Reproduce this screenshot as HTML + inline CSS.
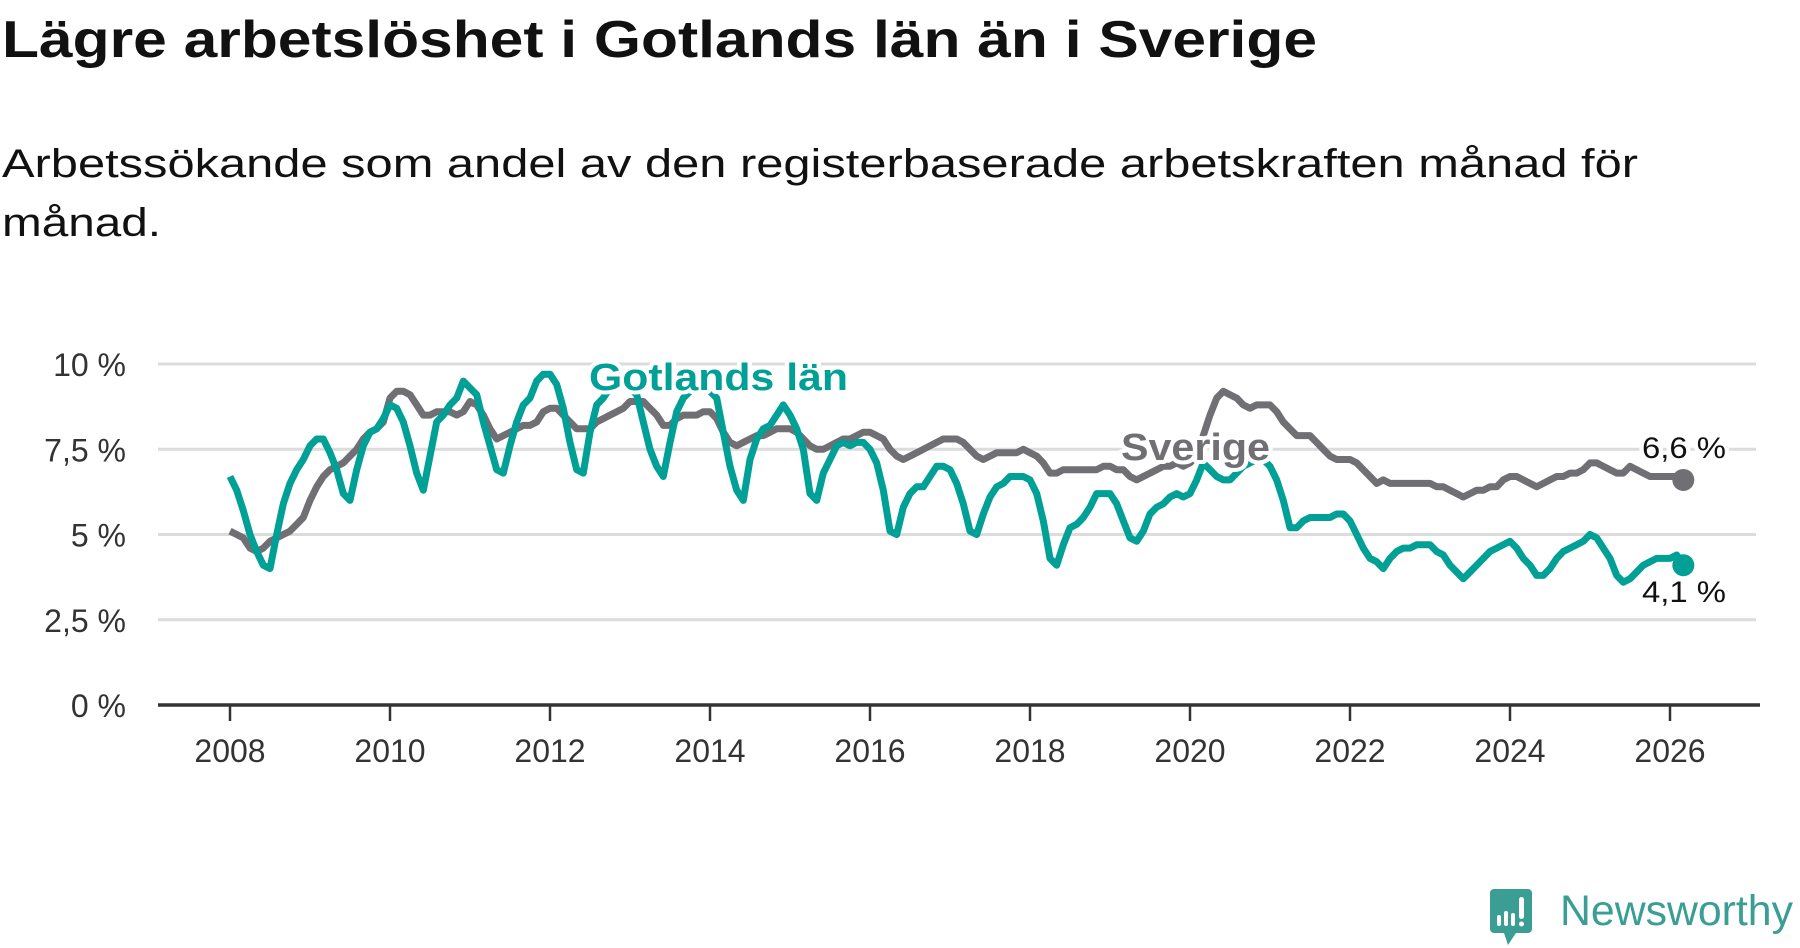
<!DOCTYPE html>
<html><head><meta charset="utf-8"><style>
html,body{margin:0;padding:0;background:#fff;}
svg{display:block;font-family:"Liberation Sans",sans-serif;}
</style></head><body>
<svg id="chart" width="1800" height="948" viewBox="0 0 1800 948" xmlns="http://www.w3.org/2000/svg">
<text x="2" y="57" font-size="52" font-weight="bold" fill="#111" textLength="1315" lengthAdjust="spacingAndGlyphs">Lägre arbetslöshet i Gotlands län än i Sverige</text>
<text x="2" y="177" font-size="40" fill="#111" textLength="1636" lengthAdjust="spacingAndGlyphs">Arbetssökande som andel av den registerbaserade arbetskraften månad för</text>
<text x="2" y="236" font-size="40" fill="#111" textLength="159" lengthAdjust="spacingAndGlyphs">månad.</text>
<g id="grid"></g><g id="axes"></g><g id="series"></g><g id="labels"></g>
<g>
<path d="M1494 889 h34 a4 4 0 0 1 4 4 v36 a4 4 0 0 1 -4 4 h-12 l-8 12 l-4 -12 h-10 a4 4 0 0 1 -4 -4 v-36 a4 4 0 0 1 4 -4z" fill="#3a9e94"/>
<rect x="1497" y="915" width="4" height="11" rx="2" fill="#fff"/>
<rect x="1504" y="911" width="4" height="15" rx="2" fill="#fff"/>
<rect x="1511" y="913" width="4" height="13" rx="2" fill="#fff"/>
<rect x="1519" y="897" width="5" height="22" rx="2.5" fill="#fff"/>
<circle cx="1521.5" cy="924" r="2.5" fill="#fff"/>
<text x="1560" y="925" font-size="43" fill="#3a9e94" textLength="233" lengthAdjust="spacingAndGlyphs">Newsworthy</text>
</g>
</svg>
<script>
const yTicks = [0, 2.5, 5, 7.5, 10];
const yTickLabels = ["0 %", "2,5 %", "5 %", "7,5 %", "10 %"];
const xTicks = [2008, 2010, 2012, 2014, 2016, 2018, 2020, 2022, 2024, 2026];
const startYear = 2008;
const gotland = [
6.7,6.3,5.7,5.0,4.5,4.1,4.0,5.0,5.9,6.5,6.9,7.2,
7.6,7.8,7.8,7.4,6.9,6.2,6.0,6.9,7.6,8.0,8.1,8.4,
8.8,8.7,8.3,7.6,6.8,6.3,7.3,8.3,8.5,8.8,9.0,9.5,
9.3,9.1,8.3,7.6,6.9,6.8,7.6,8.3,8.8,9.0,9.5,9.7,
9.7,9.4,8.7,7.7,6.9,6.8,8.0,8.8,9.0,9.3,9.4,9.4,
9.3,9.1,8.3,7.5,7.0,6.7,7.7,8.6,9.0,9.2,9.3,9.3,
9.2,9.0,8.0,7.0,6.3,6.0,7.2,7.8,8.1,8.2,8.5,8.8,
8.5,8.1,7.5,6.2,6.0,6.8,7.2,7.6,7.7,7.6,7.7,7.7,
7.5,7.1,6.3,5.1,5.0,5.8,6.2,6.4,6.4,6.7,7.0,7.0,
6.9,6.5,5.9,5.1,5.0,5.6,6.1,6.4,6.5,6.7,6.7,6.7,
6.6,6.2,5.4,4.3,4.1,4.7,5.2,5.3,5.5,5.8,6.2,6.2,
6.2,5.9,5.4,4.9,4.8,5.1,5.6,5.8,5.9,6.1,6.2,6.1,
6.2,6.6,7.1,6.9,6.7,6.6,6.6,6.8,7.0,7.1,7.2,7.2,
7.0,6.6,6.0,5.2,5.2,5.4,5.5,5.5,5.5,5.5,5.6,5.6,
5.4,5.0,4.6,4.3,4.2,4.0,4.3,4.5,4.6,4.6,4.7,4.7,
4.7,4.5,4.4,4.1,3.9,3.7,3.9,4.1,4.3,4.5,4.6,4.7,
4.8,4.6,4.3,4.1,3.8,3.8,4.0,4.3,4.5,4.6,4.7,4.8,
5.0,4.9,4.6,4.3,3.8,3.6,3.7,3.9,4.1,4.2,4.3,4.3,
4.3,4.4,4.1];
const sverige = [
5.1,5.0,4.9,4.6,4.5,4.6,4.8,4.9,5.0,5.1,5.3,5.5,
6.0,6.4,6.7,6.9,7.0,7.1,7.3,7.5,7.8,8.0,8.1,8.3,
9.0,9.2,9.2,9.1,8.8,8.5,8.5,8.6,8.6,8.6,8.5,8.6,
8.9,8.8,8.5,8.1,7.8,7.9,8.0,8.1,8.2,8.2,8.3,8.6,
8.7,8.7,8.5,8.3,8.1,8.1,8.1,8.3,8.4,8.5,8.6,8.7,
8.9,8.9,8.9,8.7,8.5,8.2,8.2,8.4,8.5,8.5,8.5,8.6,
8.6,8.4,8.0,7.7,7.6,7.7,7.8,7.9,7.9,8.0,8.1,8.1,
8.1,8.0,7.8,7.6,7.5,7.5,7.6,7.7,7.8,7.8,7.9,8.0,
8.0,7.9,7.8,7.5,7.3,7.2,7.3,7.4,7.5,7.6,7.7,7.8,
7.8,7.8,7.7,7.5,7.3,7.2,7.3,7.4,7.4,7.4,7.4,7.5,
7.4,7.3,7.1,6.8,6.8,6.9,6.9,6.9,6.9,6.9,6.9,7.0,
7.0,6.9,6.9,6.7,6.6,6.7,6.8,6.9,7.0,7.0,7.1,7.0,
7.1,7.3,7.9,8.5,9.0,9.2,9.1,9.0,8.8,8.7,8.8,8.8,
8.8,8.6,8.3,8.1,7.9,7.9,7.9,7.7,7.5,7.3,7.2,7.2,
7.2,7.1,6.9,6.7,6.5,6.6,6.5,6.5,6.5,6.5,6.5,6.5,
6.5,6.4,6.4,6.3,6.2,6.1,6.2,6.3,6.3,6.4,6.4,6.6,
6.7,6.7,6.6,6.5,6.4,6.5,6.6,6.7,6.7,6.8,6.8,6.9,
7.1,7.1,7.0,6.9,6.8,6.8,7.0,6.9,6.8,6.7,6.7,6.7,
6.7,6.7,6.6];
const NS = "http://www.w3.org/2000/svg";
const X0 = 230, PXY = 80, Y0 = 705, PXP = 34.1;
function xScale(t){ return X0 + (t - startYear) * PXY; }
function yScale(v){ return Y0 - v * PXP; }
function tOf(i){ return startYear + i / 12; }
function mk(tag, attrs, parent){ const e = document.createElementNS(NS, tag); for (const k in attrs) e.setAttribute(k, attrs[k]); parent.appendChild(e); return e; }
const grid = document.getElementById('grid'), axes = document.getElementById('axes'), series = document.getElementById('series'), labels = document.getElementById('labels');
yTicks.forEach((v, i) => {
  if (v > 0) {
    const l = mk('line', {x1: 158, x2: 1756, y1: yScale(v), y2: yScale(v), stroke: '#dcdcdc', 'stroke-width': 3}, grid);
    
    
  }
  const t = mk('text', {x: 126, y: yScale(v) + 12, 'font-size': 32, fill: '#333', 'text-anchor': 'end'}, axes);
  t.textContent = yTickLabels[i];
  
  
});
const ax = mk('line', {x1: 158, x2: 1760, y1: Y0, y2: Y0, stroke: '#333', 'stroke-width': 3.5}, axes);


xTicks.forEach(y => {
  const tk = mk('line', {x1: xScale(y), x2: xScale(y), y1: Y0, y2: Y0 + 16, stroke: '#333', 'stroke-width': 2.5}, axes);
  
  
  const t = mk('text', {x: xScale(y), y: 762, 'font-size': 32, fill: '#333', 'text-anchor': 'middle'}, axes);
  t.textContent = y;
  
  
});
function drawLine(arr, color, name){
  const d = arr.map((v, i) => (i ? 'L' : 'M') + xScale(tOf(i)).toFixed(1) + ' ' + yScale(v).toFixed(1)).join(' ');
  const p = mk('path', {d: d, fill: 'none', stroke: color, 'stroke-width': 7, 'stroke-linejoin': 'round'}, series);
  
  
  const n = arr.length - 1;
  const c = mk('circle', {cx: xScale(tOf(n)), cy: yScale(arr[n]), r: 11, fill: color}, series);
  
  
}
drawLine(sverige, '#706f74', 'sverige');
drawLine(gotland, '#00a096', 'gotland');
function label(txt, x, y, color, size, bold, w, name){
  const t = mk('text', {x: x, y: y, 'font-size': size, fill: color, 'font-weight': bold ? 'bold' : 'normal', stroke: '#fff', 'stroke-width': 8, 'paint-order': 'stroke', 'stroke-linejoin': 'round', textLength: w, lengthAdjust: 'spacingAndGlyphs'}, labels);
  t.textContent = txt;
  
  
}
label('Gotlands län', 589, 390, '#00a096', 38, true, 259, 'gotland-series-label');
label('Sverige', 1121, 460, '#706f74', 38, true, 149, 'sverige-series-label');
label(String(sverige[sverige.length-1]).replace('.', ',') + ' %', 1642, 458, '#111', 30, false, 84, 'sverige-end-value');
label(String(gotland[gotland.length-1]).replace('.', ',') + ' %', 1642, 602, '#111', 30, false, 84, 'gotland-end-value');
</script>
</body></html>
